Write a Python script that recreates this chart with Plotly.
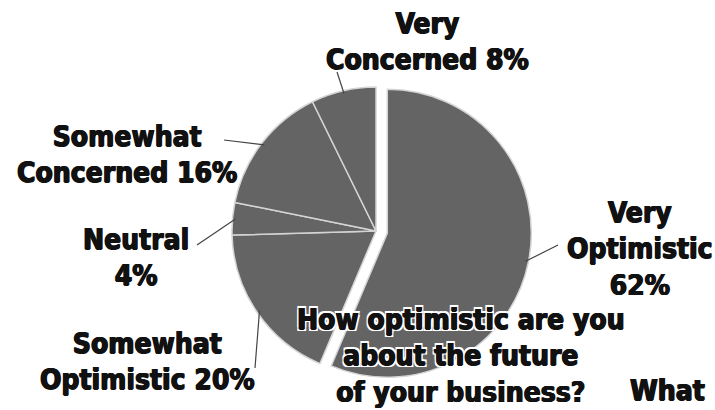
import math
import plotly.graph_objects as go

# Survey answers, clockwise from 12 o'clock
categories = ["Very Optimistic", "Somewhat Optimistic", "Neutral",
              "Somewhat Concerned", "Very Concerned"]
values = [62, 20, 4, 16, 8]
# How each category name is broken over lines in its label
label_heads = ["Very<br>Optimistic<br>", "Somewhat<br>Optimistic ", "Neutral<br>",
               "Somewhat<br>Concerned ", "Very<br>Concerned "]
question = "How optimistic are you<br>about the future<br>of your business?"
next_question = "What"

# ---- layout constants (pixels) ----
W, H = 715, 410
CX, CY, R = 376, 231, 144        # pie centre and radius
PULL = [0.08, 0, 0, 0, 0]
GREY = "#646464"
FONT = "DejaVu Sans Condensed, Liberation Sans Narrow, sans-serif"
FSIZE = 28

# domain box so plotly lands the pie at CX, CY with radius R
half = R * (1 + max(PULL))
dom_x = [(CX - half) / W, (CX + half) / W]
dom_y = [1 - (CY + half) / H, 1 - (CY - half) / H]

fig = go.Figure(go.Pie(
    labels=categories,
    values=values,
    sort=False,
    direction="clockwise",
    rotation=0,
    pull=PULL,
    marker=dict(colors=[GREY] * len(values), line=dict(color="#d4d4d4", width=1.5)),
    textinfo="none",
    hoverinfo="label+value",
    domain=dict(x=dom_x, y=dom_y),
    showlegend=False,
))

# label centres and the point where each leader line leaves its label
label_pos = [(640, 249), (147, 361), (136, 257), (127, 154), (427, 42)]
leader_from = [(558, 245), (255, 368), (197, 245), (224, 140), (337, 72)]

# a thin dark shadow thickens the strokes into a heavy poster weight
heavy = "0.7px 0 0 #111, -0.7px 0 0 #111, 0 0.5px 0 #111"
halo = (heavy + ", -2px -2px 0 #fff, 2px -2px 0 #fff, -2px 2px 0 #fff, "
        "2px 2px 0 #fff, 0 0 3px #fff")


def px_to_paper(x, y):
    return x / W, 1 - y / H


total = sum(values)
start = 0.0
for i, v in enumerate(values):
    frac = v / total
    mid = 2 * math.pi * (start + frac / 2)
    start += frac
    ox = CX + PULL[i] * R * math.sin(mid)
    oy = CY - PULL[i] * R * math.cos(mid)
    ex = ox + 0.98 * R * math.sin(mid)
    ey = oy - 0.98 * R * math.cos(mid)
    x0, y0 = px_to_paper(*leader_from[i])
    x1, y1 = px_to_paper(ex, ey)
    fig.add_shape(type="line", xref="paper", yref="paper",
                  x0=x0, y0=y0, x1=x1, y1=y1,
                  line=dict(color="#444444", width=1.2))
    lx, ly = px_to_paper(*label_pos[i])
    fig.add_annotation(xref="paper", yref="paper", x=lx, y=ly,
                       xanchor="center", yanchor="middle",
                       text=f"{label_heads[i]}{v}%", showarrow=False,
                       font=dict(family=FONT, size=FSIZE, color="#111111",
                                 weight="bold", shadow=heavy))

qx, qy = px_to_paper(461, 356)
fig.add_annotation(xref="paper", yref="paper", x=qx, y=qy,
                   xanchor="center", yanchor="middle", text=question,
                   showarrow=False,
                   font=dict(family=FONT, size=FSIZE, color="#111111",
                             weight="bold", shadow=halo))
wx, wy = px_to_paper(667, 390)
fig.add_annotation(xref="paper", yref="paper", x=wx, y=wy,
                   xanchor="center", yanchor="middle", text=next_question,
                   showarrow=False,
                   font=dict(family=FONT, size=FSIZE, color="#111111",
                             weight="bold", shadow=heavy))

fig.update_layout(width=W, height=H, margin=dict(l=0, r=0, t=0, b=0),
                  paper_bgcolor="white", plot_bgcolor="white")
fig.write_html("out.html")
